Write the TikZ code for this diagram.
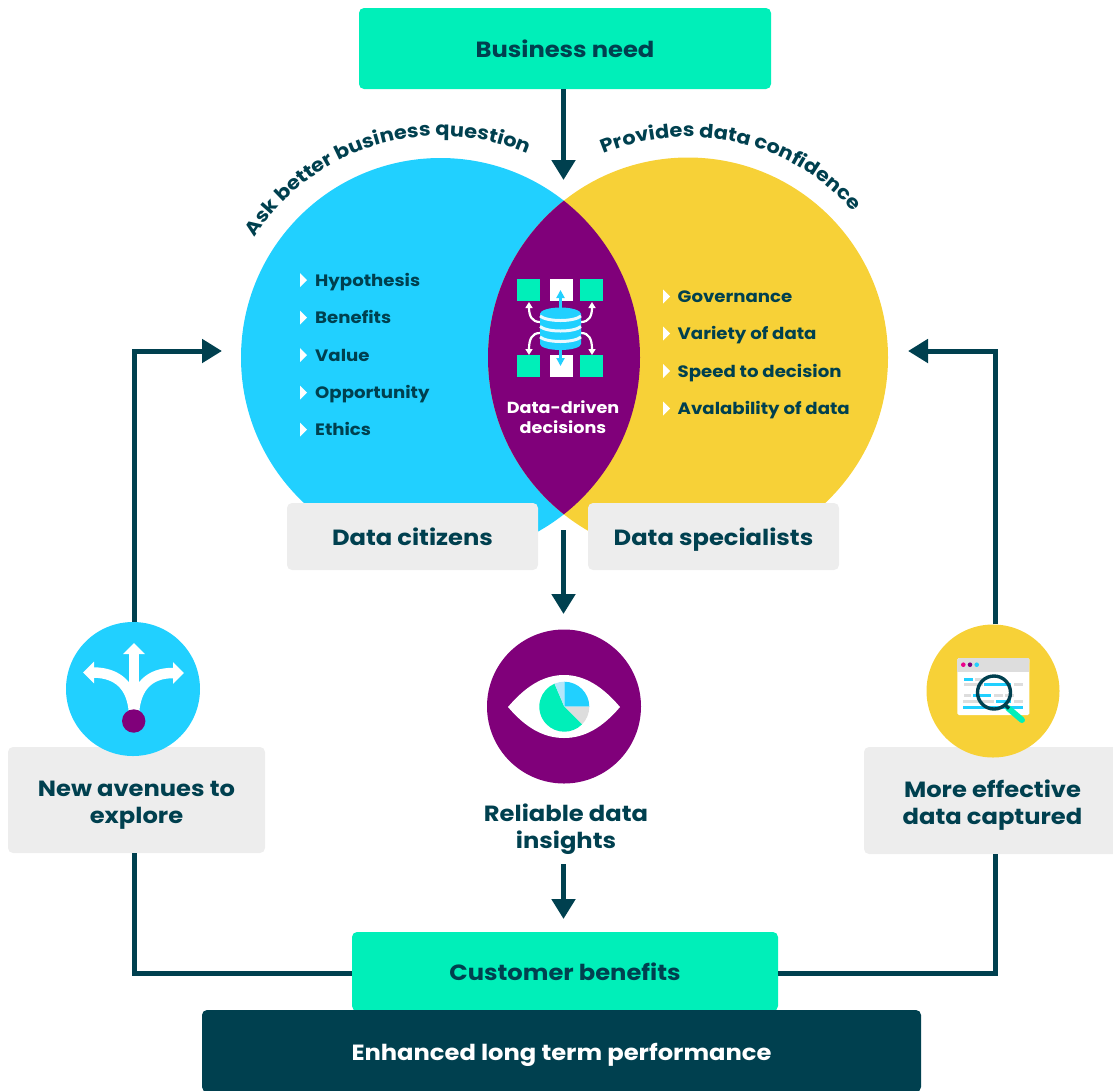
\documentclass[tikz,border=0pt]{standalone}
\usepackage{fontspec}
\usepackage{xcolor}
\usetikzlibrary{arrows.meta,decorations.text}
\setmainfont{Poppins}[FakeStretch=1.1]
\definecolor{darkteal}{HTML}{00404F}
\definecolor{mint}{HTML}{00EFB9}
\definecolor{skyblue}{HTML}{21D0FF}
\definecolor{sunny}{HTML}{F7D137}
\definecolor{plum}{HTML}{80007A}
\definecolor{softgray}{HTML}{EDEDED}
\definecolor{linegray}{HTML}{DDDDDD}
\newcommand{\toppad}{\rule{0pt}{26pt}}
\tikzset{
  flow/.style={draw=darkteal,line width=5pt,-{Triangle[width=23pt,length=20pt]}},
  link/.style={draw=darkteal,line width=5pt},
  box/.style={rounded corners=5pt,inner sep=0pt,align=center,text=darkteal,font=\fontsize{22}{27}\selectfont\bfseries},
  oneline/.style={text height=23pt,text depth=5pt},
  listlabel/.style={anchor=west,inner sep=0pt,text height=14pt,text depth=2pt,text=darkteal,font=\fontsize{16.5}{20}\selectfont\bfseries},
  disc/.style={circle,inner sep=0pt},
  sprout/.style={draw=white,line width=10.5pt,-{Triangle[width=21pt,length=11pt]}},
  feed/.style={draw=white,line width=2.2pt,-{Triangle[width=7pt,length=6pt]}},
  jet/.style={draw=skyblue,line width=2.8pt,-{Triangle[width=8pt,length=8pt]}},
}
\begin{document}
\begin{tikzpicture}[x=1pt,y=-1pt]
  \useasboundingbox (0,0) rectangle (1113,1090);

  \node[disc,fill=skyblue,minimum size=399pt] (citizensdisc) at (440.5,357.5) {};
  \node[disc,fill=sunny,minimum size=400pt] (specialistsdisc) at (688,357.5) {};
  \begin{scope}
    \clip (440.5,357.5) circle (199.5);
    \fill[plum] (688,357.5) circle (200);
  \end{scope}

  \path[decorate,decoration={text along path,text align=center,
    text={|\fontsize{19}{24}\selectfont\bfseries\color{darkteal}|Ask better business question}}]
    (440.5,357) ++(-149:221) arc (-149:-65:221);
  \path[decorate,decoration={text along path,text align=center,
    text={|\fontsize{19}{24}\selectfont\bfseries\color{darkteal}|Provides data confidence}}]
    (688,357) ++(-114:220) arc (-114:-40:220);

  \node[box,oneline,fill=mint,minimum width=412pt,minimum height=81pt] (need) at (565,48.5) {Business need};
  \node[box,oneline,fill=softgray,minimum width=251pt,minimum height=67pt] (citizens) at (412.5,536.5) {Data citizens};
  \node[box,oneline,fill=softgray,minimum width=251pt,minimum height=67pt] (specialists) at (713.5,536.5) {Data specialists};
  \node[box,fill=softgray,minimum width=257pt,minimum height=106pt] (avenues) at (136.5,800) {\toppad New avenues to\\explore};
  \node[box,fill=softgray,minimum width=257pt,minimum height=107pt] (captured) at (992.5,800.5) {\toppad More effective\\data captured};
  \node[box,oneline,fill=mint,minimum width=426pt,minimum height=79pt] (customer) at (565,971.5) {Customer benefits};
  \node[box,oneline,fill=darkteal,text=white,minimum width=719pt,minimum height=82pt] (performance) at (561.5,1051) {Enhanced long term performance};
  \node[disc,fill=skyblue,minimum size=134pt] (split) at (133,689) {};
  \node[disc,fill=plum,minimum size=154pt] (eye) at (564,706.5) {};
  \node[disc,fill=sunny,minimum size=133pt] (lens) at (993,691) {};
  \node[box,minimum width=200pt] (insights) at (566,829) {Reliable data\\insights};

  \coordinate (needtip) at (563.5,180);
  \coordinate (overlap) at (563.5,530);
  \coordinate (overlaptip) at (563.5,614);
  \coordinate (insightsend) at (563.5,864);
  \coordinate (customertip) at (563.5,919);
  \coordinate (citizenstip) at (222,351);
  \coordinate (specialiststip) at (908,351);
  \coordinate (leftrail) at (134,351);
  \coordinate (rightrail) at (995,351);
  \coordinate (customerleft) at (352,973);
  \coordinate (customerright) at (778,973);

  \draw[flow] (need.south -| needtip) -- (needtip);
  \draw[flow] (overlap) -- (overlaptip);
  \draw[flow] (insightsend) -- (customertip);
  \draw[flow] (leftrail |- split.north) -- (leftrail) -- (citizenstip);
  \draw[flow] (rightrail |- lens.north) -- (rightrail) -- (specialiststip);
  \draw[link] (leftrail |- avenues.south) |- (customerleft);
  \draw[link] (rightrail |- captured.south) |- (customerright);

  \foreach \y/\t in {280/Hypothesis,317.5/Benefits,355/Value,392.5/Opportunity,429.5/Ethics} {
    \fill[white] (300,\y-7) -- (307,\y) -- (300,\y+7) -- cycle;
    \node[listlabel] at (315,\y) {\t};
  }
  \foreach \y/\t in {296.5/Governance,333.5/Variety of data,371/Speed to decision,408.5/Avalability of data} {
    \fill[white] (663,\y-7) -- (670,\y) -- (663,\y+7) -- cycle;
    \node[listlabel] at (677.5,\y) {\t};
  }

  \foreach \x in {517,580} {
    \fill[mint] (\x,279) rectangle ++(23,22);
    \fill[mint] (\x,355) rectangle ++(23,22);
  }
  \fill[white] (550,279) rectangle ++(23,22);
  \fill[white] (550,355) rectangle ++(23,22);
  \draw[jet] (560.5,310) -- (560.5,290);
  \draw[jet] (560.5,348) -- (560.5,366);
  \draw[feed] (540,322) .. controls (532,322) and (529,316) .. (529,302);
  \draw[feed] (581,322) .. controls (589,322) and (592,316) .. (592,302);
  \draw[feed] (540,333) .. controls (532,333) and (529,339) .. (529,355);
  \draw[feed] (581,333) .. controls (589,333) and (592,339) .. (592,355);
  \fill[skyblue] (540,314) arc (180:360:20.5 and 6) -- (581,344) arc (0:-180:20.5 and -6) -- cycle;
  \fill[skyblue] (560.5,314) ellipse (20.5 and 6.5);
  \foreach \y in {316,326.5,337} {
    \draw[cyan!8,line width=3pt] (540,\y) .. controls (547,\y+6) and (574,\y+6) .. (581,\y);
  }
  \node[font=\fontsize{16}{20}\selectfont\bfseries,text=white,align=center,inner sep=0pt] (decisions) at (563,417) {Data-driven\\decisions};

  \draw[sprout,-] (134,716) -- (134,690);
  \draw[sprout] (134,700) -- (134,643);
  \draw[sprout] (134,712) .. controls (132,686) and (118,673) .. (94,672.5) -- (83,672.5);
  \draw[sprout] (134,712) .. controls (136,686) and (150,673) .. (173,673) -- (184,673);
  \fill[plum] (133.7,721) circle (11.7);

  \fill[white] (508,707) .. controls (525,687) and (543,675) .. (564,675)
    .. controls (585,675) and (603,687) .. (620,707)
    .. controls (603,727) and (585,738) .. (564,738)
    .. controls (543,738) and (525,727) .. (508,707) -- cycle;
  \fill[skyblue] (564.3,706.7) -- ++(-90:25) arc (-90:0:25) -- cycle;
  \fill[linegray] (564.3,706.7) -- ++(0:25) arc (0:45:25) -- cycle;
  \fill[mint] (564.3,706.7) -- ++(45:25) arc (45:247:25) -- cycle;
  \fill[cyan!30] (564.3,706.7) -- ++(-113:25) arc (-113:-90:25) -- cycle;

  \fill[white,rounded corners=1.5pt] (957.3,658) rectangle (1029.3,715);
  \fill[linegray] (957.3,660) rectangle (1029.3,671.5);
  \fill[linegray,rounded corners=1.5pt] (957.3,658) rectangle (1029.3,664);
  \fill[magenta] (963.3,664.7) circle (2.3);
  \fill[plum] (970,664.7) circle (2.3);
  \fill[skyblue] (976.7,664.7) circle (2.3);
  \foreach \a/\b/\y/\c in {132/160/178/skyblue,165/190/178/linegray,132/190/193/linegray,192/273/193/skyblue,
    282/308/193/linegray,132/152/226/linegray,159/213/226/skyblue,222/248/226/linegray,255/282/226/linegray,
    129/222/244/linegray,228/273/244/skyblue,282/308/244/linegray,129/308/262/skyblue} {
    \fill[\c] (920+\a/3,620+\y/3-1.3) rectangle (920+\b/3,620+\y/3+1.3);
  }
  \draw[mint,line width=6pt,line cap=round] (1008,708) -- (1022,720);
  \draw[darkteal,line width=3.4pt] (1004.5,704.5) -- (1009,708.5);
  \draw[darkteal,line width=3.4pt] (994,692.5) circle (16.5);
\end{tikzpicture}
\end{document}
